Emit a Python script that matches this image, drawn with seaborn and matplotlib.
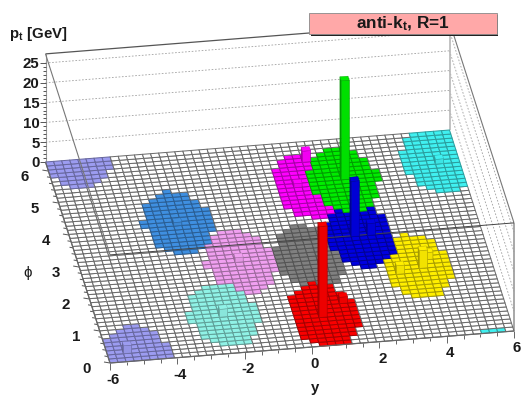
import numpy as np
import pandas as pd
import matplotlib
matplotlib.use("Agg")
import matplotlib.pyplot as plt
from matplotlib.colors import ListedColormap, to_rgb
from matplotlib.patches import Polygon, Rectangle
from matplotlib.transforms import Affine2D
import seaborn as sns

# Jets, hardest first: centre (rapidity, azimuth), colour
jet_names = ["green", "red", "blue", "yellow", "magenta", "aqua", "periwinkle", "cyan", "orchid", "steel", "gray"]
jet_y = [2.50, 0.65, 2.47, 3.78, 1.38, -2.25, -5.10, 5.36, -1.29, -2.73, 0.78]
jet_phi = [5.04, 0.95, 3.30, 2.21, 4.92, 1.19, 0.10, 5.40, 2.79, 4.10, 2.75]
jet_colors = ["#00ec00", "#fa0000", "#0000e0", "#ffee00", "#ff00ff", "#90f2e6", "#9c9cf0",
              "#40f0f0", "#f0a0f0", "#3f8fe0", "#808080"]
# Towers carrying the transverse momentum
tower_y = [2.46, 0.51, 2.37, 2.72, 3.87, 3.22, 4.25, 1.49, 1.11, -2.25, 1.30, -5.31, 5.36, -2.73, -1.29]
tower_phi = [5.04, 0.99, 3.30, 3.27, 2.18, 2.10, 2.46, 5.66, 5.00, 1.19, 1.37, 0.32, 5.40, 4.10, 2.79]
tower_pt = [25.0, 23.0, 14.0, 3.0, 4.5, 2.2, 1.8, 2.8, 1.0, 2.0, 1.6, 2.0, 1.2, 0.9, 1.2]
tower_jet = [0, 1, 2, 2, 3, 3, 3, 4, 4, 5, 1, 6, 7, 9, 8]
# Axes
y_ticks = [-6, -4, -2, 0, 2, 4, 6]
phi_ticks = [0, 1, 2, 3, 4, 5, 6]
pt_ticks = [0, 5, 10, 15, 20, 25]
n_bins = 50
y_min, y_max = -6.0, 6.0
phi_max = 2 * np.pi
pt_max = 27.3
title_text = "anti-k$_{t}$, R=1"
jet_radius = 1.0

sns.set_theme(style="white")
plt.rcParams["font.family"] = ["Liberation Sans", "DejaVu Sans"]
plt.rcParams["font.weight"] = "bold"
plt.rcParams["mathtext.default"] = "regular"

# Oblique view of the (y, phi, pt) box on the page
ex = np.array([404.0, -32.0]) / (y_max - y_min)
ephi = np.array([-64.5, -201.0]) / phi_max
origin = np.array([110.0, 364.0])
pt_scale = 3.96


def proj(y, phi, pt=0.0):
    p = origin + ex * (y - y_min) + ephi * phi
    return np.array([p[0], p[1] - pt_scale * pt])


def shade(c, f):
    return tuple(np.array(to_rgb(c)) * f)


# Assign each cell to the hardest jet within reach
y_edges = np.linspace(y_min, y_max, n_bins + 1)
phi_edges = np.linspace(0, phi_max, n_bins + 1)
yc = 0.5 * (y_edges[:-1] + y_edges[1:])
pc = 0.5 * (phi_edges[:-1] + phi_edges[1:])
Y, P = np.meshgrid(yc, pc)
owner = np.zeros((n_bins, n_bins), dtype=int)
for i, (jy, jp) in enumerate(zip(jet_y, jet_phi)):
    dp = np.abs(P - jp)
    dp = np.minimum(dp, phi_max - dp)
    inside = (Y - jy) ** 2 + dp ** 2 <= jet_radius ** 2
    owner[inside & (owner == 0)] = i + 1

fig = plt.figure(figsize=(5.28, 4.02), dpi=100, facecolor="white")
ax = fig.add_axes([0, 0, 1, 1])
cmap = ListedColormap(["#ffffff"] + jet_colors)
sx = (y_max - y_min) / n_bins
sp = phi_max / n_bins
a0 = proj(y_min, 0)
cell_to_page = Affine2D.from_values(ex[0] * sx, ex[1] * sx, ephi[0] * sp, ephi[1] * sp, a0[0], a0[1])
sns.heatmap(pd.DataFrame(owner), ax=ax, cmap=cmap, vmin=-0.5, vmax=len(jet_colors) + 0.5, cbar=False,
            linewidths=0.72, linecolor="#777777", xticklabels=False, yticklabels=False, antialiased=True)
mesh = ax.collections[0]
mesh.set_transform(cell_to_page + ax.transData)
mesh.set_snap(False)
mesh.set_zorder(2)
# Each cell's outline follows its own colour: grey on the floor, a darker tint on a jet
edge_table = np.array([(0.42, 0.42, 0.42, 1.0)] + [shade(c, 0.66) + (1.0,) for c in jet_colors])
mesh.set_edgecolor(edge_table[owner.ravel()])
ax.set_xlim(0, 528)
ax.set_ylim(402, 0)
ax.axis("off")


def seg(p, q, **kw):
    kw.setdefault("color", "#555555")
    kw.setdefault("lw", 0.8)
    kw.setdefault("zorder", 1)
    ax.plot([p[0], q[0]], [p[1], q[1]], solid_capstyle="butt", **kw)


# Walls: gridlines at each pt tick on the back and right walls
for t in pt_ticks[1:]:
    seg(proj(y_min, phi_max, t), proj(y_max, phi_max, t), color="#a0a0a0", lw=0.6, ls=(0, (2, 2)))
    seg(proj(y_max, phi_max, t), proj(y_max, 0, t), color="#a0a0a0", lw=0.6, ls=(0, (2, 2)))

# Box outline
seg(proj(y_min, phi_max, 0), proj(y_min, phi_max, pt_max), color="#999999")
seg(proj(y_max, phi_max, 0), proj(y_max, phi_max, pt_max), color="#b8b8b8", lw=1.2)
seg(proj(y_max, 0, 0), proj(y_max, 0, pt_max), color="#999999", lw=1.2)
seg(proj(y_min, phi_max, pt_max), proj(y_max, phi_max, pt_max), color="#555555", lw=0.9)
seg(proj(y_max, phi_max, pt_max), proj(y_max, 0, pt_max), color="#777777", lw=0.8)
seg(proj(y_min, phi_max, pt_max), proj(y_min, 0, pt_max), color="#777777", lw=0.8, zorder=3)
seg(proj(y_min, 0, pt_max), proj(y_max, 0, pt_max), color="#444444", lw=0.7, zorder=3)
seg(proj(y_min, 0, 0), proj(y_max, 0, 0), color="#666666", lw=0.9, zorder=3)
seg(proj(y_min, 0, 0), proj(y_min, phi_max, 0), color="#666666", lw=0.9, zorder=3)

# Ticks
for t in np.arange(0, 26, 1.0):
    p = proj(y_min, phi_max, t)
    seg(p, p + np.array([-5.5 if t % 5 == 0 else -3, 0]), color="#555555", lw=0.7)
for v in np.arange(y_min, y_max + 0.01, 0.5):
    p = proj(v, 0)
    seg(p, p + np.array([0, 6.5 if v % 2 == 0 else 3.5]), color="#666666", lw=0.7)
for v in np.arange(0, 6.01, 0.2):
    p = proj(y_min, v)
    major = abs(v - round(v)) < 1e-6
    seg(p, p + np.array([-6 if major else -3.5, -1 if major else -0.6]), color="#555555", lw=0.7)

# Towers, back to front
order = np.argsort(-np.array(tower_phi))
z = 10
for k in order:
    col = jet_colors[tower_jet[k]]
    i0 = int((tower_y[k] - y_min) / sx)
    j0 = int(tower_phi[k] / sp)
    y0, y1 = y_edges[i0], y_edges[i0 + 1]
    p0, p1 = phi_edges[j0], phi_edges[j0 + 1]
    h = tower_pt[k]
    front = [proj(y0, p0), proj(y1, p0), proj(y1, p0, h), proj(y0, p0, h)]
    left = [proj(y0, p0), proj(y0, p1), proj(y0, p1, h), proj(y0, p0, h)]
    top = [proj(y0, p0, h), proj(y1, p0, h), proj(y1, p1, h), proj(y0, p1, h)]
    ax.add_patch(Polygon(left, closed=True, fc=shade(col, 0.65), ec=shade(col, 0.6), lw=0.3, zorder=z))
    ax.add_patch(Polygon(front, closed=True, fc=shade(col, 0.95), ec=shade(col, 0.7), lw=0.5, zorder=z))
    ax.add_patch(Polygon(top, closed=True, fc=col, ec=shade(col, 0.7), lw=0.3, zorder=z))
    z += 1

# Labels
fs = 10.8
ink = "#1a1a1a"
for t in pt_ticks:
    p = proj(y_min, phi_max, t)
    ax.text(39.5, p[1] + 0.5, str(t), ha="right", va="center", fontsize=fs, color=ink)
for v in y_ticks:
    p = proj(v, 0)
    ax.text(p[0] + 3, p[1] + 16, str(v), ha="center", va="center", fontsize=fs, color=ink)
for v in phi_ticks:
    p = proj(y_min, v)
    ax.text(p[0] - 23.5, p[1] + 5, str(v), ha="center", va="center", fontsize=fs, color=ink)
ax.text(315, 388, "y", ha="center", va="center", fontsize=fs, color=ink)
ax.text(28, 273, "\u03d5", ha="center", va="center", fontsize=fs, color=ink, fontweight="normal")
ax.text(9, 34, "p$_{t}$ [GeV]", ha="left", va="center", fontsize=fs, color=ink)

# Title box with drop shadow
ax.add_patch(Rectangle((311, 16), 187, 20.5, fc="#222222", ec="none", zorder=50))
ax.add_patch(Rectangle((309, 14), 187.5, 21, fc="#ffa8a8", ec="#888888", lw=0.6, zorder=51))
ax.text(403, 24, title_text, ha="center", va="center", fontsize=12.4, color=ink, zorder=52)

fig.savefig("out.png", dpi=100)
